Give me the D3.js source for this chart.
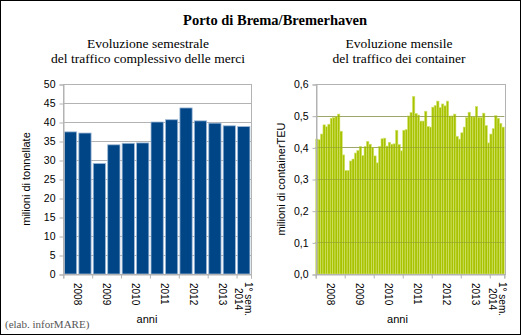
<!DOCTYPE html>
<html>
<head>
<meta charset="utf-8">
<script src="https://cdn.jsdelivr.net/npm/d3@7"></script>
<style>
  body { margin: 0; background: #fff; }
  svg { display: block; }
</style>
</head>
<body>
<div id="chart"></div>
<script>
// semester totals, milioni di tonnellate
var semesters = ["2008-1", "2008-2", "2009-1", "2009-2", "2010-1", "2010-2", "2011-1",
                 "2011-2", "2012-1", "2012-2", "2013-1", "2013-2", "2014-1"];
var tonnes = [37.4, 37.1, 29.1, 34.0, 34.4, 34.5, 40.0, 40.6, 43.7, 40.3, 39.7, 39.0, 38.8];

// monthly containers, milioni di TEU
var teu2008 = [0.426, 0.424, 0.442, 0.471, 0.465, 0.473, 0.492, 0.494, 0.497, 0.505, 0.451, 0.376];
var teu2009 = [0.327, 0.327, 0.357, 0.363, 0.382, 0.390, 0.403, 0.374, 0.403, 0.419, 0.410, 0.400];
var teu2010 = [0.373, 0.351, 0.403, 0.427, 0.429, 0.404, 0.416, 0.410, 0.411, 0.454, 0.409, 0.389];
var teu2011 = [0.454, 0.456, 0.499, 0.510, 0.561, 0.507, 0.502, 0.483, 0.483, 0.514, 0.466, 0.464];
var teu2012 = [0.527, 0.532, 0.546, 0.526, 0.537, 0.531, 0.546, 0.499, 0.499, 0.505, 0.435, 0.426];
var teu2013 = [0.446, 0.464, 0.494, 0.511, 0.497, 0.496, 0.529, 0.495, 0.494, 0.508, 0.469, 0.414];
var teu2014 = [0.442, 0.459, 0.500, 0.492, 0.476, 0.464];

var yearLabels = ["2008", "2009", "2010", "2011", "2012", "2013", "1° sem.|2014"];
var tonTicks = [0, 5, 10, 15, 20, 25, 30, 35, 40, 45, 50];
var teuTicks = [0, 0.1, 0.2, 0.3, 0.4, 0.5, 0.6];

var teu = [].concat(teu2008, teu2009, teu2010, teu2011, teu2012, teu2013, teu2014);
var months = teu.map(function(d, i) { return (2008 + Math.floor(i / 12)) + "-" + (i % 12 + 1); });

var total_width = 521, total_height = 335;
var sans = "'Liberation Sans', Arial, sans-serif",
    serif = "'Liberation Serif', 'Times New Roman', serif";
var gridColor = "#b3b3b3";

var svg = d3.select("#chart").append("svg")
    .attr("width", total_width)
    .attr("height", total_height);

svg.append("rect")
    .attr("x", 0.5).attr("y", 0.5)
    .attr("width", total_width - 1).attr("height", total_height - 1)
    .attr("fill", "#fff").attr("stroke", "#000");

// titles
svg.append("text")
    .attr("x", 275).attr("y", 25)
    .attr("text-anchor", "middle")
    .style("font-family", serif).style("font-size", "14.5px").style("font-weight", "bold")
    .text("Porto di Brema/Bremerhaven");

function subtitle(cx, lines) {
  lines.forEach(function(t, i) {
    svg.append("text")
        .attr("x", cx).attr("y", 48 + i * 15)
        .attr("text-anchor", "middle")
        .style("font-family", serif).style("font-size", "13.5px")
        .text(t);
  });
}
subtitle(148, ["Evoluzione semestrale", "del traffico complessivo delle merci"]);
subtitle(399, ["Evoluzione mensile", "del traffico dei container"]);

svg.append("text")
    .attr("x", 5).attr("y", 328)
    .style("font-family", serif).style("font-size", "11px")
    .attr("fill", "#555")
    .text("(elab. inforMARE)");

var plotTop = 84, plotBottom = 274;

// draws a panel: bars, grid, axes, labels
function panel(opt) {
  var g = svg.append("g");
  var x = d3.scaleBand()
      .domain(opt.cats)
      .range([opt.left, opt.right])
      .paddingInner(opt.pad).paddingOuter(opt.pad / 2);
  var y = d3.scaleLinear().domain(opt.domain).range([plotBottom, plotTop]);
  // index scale for year boundaries
  var xi = d3.scaleLinear().domain([0, opt.cats.length]).range([opt.left, opt.right]);

  // grid behind
  g.append("g")
      .selectAll("line")
      .data(opt.ticks)
      .enter().append("line")
        .attr("x1", opt.left).attr("x2", opt.right)
        .attr("y1", function(d) { return Math.round(y(d)) + 0.5; })
        .attr("y2", function(d) { return Math.round(y(d)) + 0.5; })
        .attr("stroke", gridColor);

  g.append("g")
      .selectAll("rect")
      .data(opt.values)
      .enter().append("rect")
        .attr("x", function(d, i) { return x(opt.cats[i]); })
        .attr("y", function(d) { return y(d); })
        .attr("width", x.bandwidth())
        .attr("height", function(d) { return plotBottom - y(d); })
        .attr("fill", opt.fill)
        .attr("stroke", opt.stroke)
        .attr("stroke-width", opt.strokeWidth);

  // grid seen through the bars
  if (opt.gridOver) {
    g.append("g")
        .selectAll("line")
        .data(opt.ticks.slice(1))
        .enter().append("line")
          .attr("x1", opt.left).attr("x2", opt.right)
          .attr("y1", function(d) { return Math.round(y(d)) + 0.5; })
          .attr("y2", function(d) { return Math.round(y(d)) + 0.5; })
          .attr("stroke", "#8a9a30").attr("stroke-opacity", 0.55);
  }

  // frame
  g.append("rect")
      .attr("x", Math.round(opt.left) + 0.5).attr("y", plotTop + 0.5)
      .attr("width", Math.round(opt.right - opt.left)).attr("height", plotBottom - plotTop)
      .attr("fill", "none").attr("stroke", gridColor);

  // y axis
  var yAxis = g.append("g")
      .attr("transform", "translate(" + (Math.round(opt.left) + 0.5) + ",0.5)")
      .call(d3.axisLeft(y).tickValues(opt.ticks).tickSize(4).tickPadding(4).tickFormat(opt.fmt));
  yAxis.select(".domain").attr("stroke", gridColor);
  yAxis.selectAll(".tick line").attr("stroke", gridColor);
  yAxis.selectAll("text")
      .style("font-family", sans).style("font-size", "10.5px").attr("fill", "#000");

  // x axis, ticks at year boundaries
  var xAxis = g.append("g")
      .attr("transform", "translate(0," + (plotBottom + 0.5) + ")")
      .call(d3.axisBottom(xi).tickValues(opt.bounds).tickSize(4).tickFormat(""));
  xAxis.select(".domain").attr("stroke", gridColor);
  xAxis.selectAll(".tick line").attr("stroke", gridColor);

  // rotated year labels
  yearLabels.forEach(function(lab, k) {
    var cx = xi((opt.bounds[k] + opt.bounds[k + 1]) / 2);
    var lines = lab.split("|");
    var t = g.append("text")
        .attr("transform", "translate(" + cx + "," + (plotBottom + 9) + ") rotate(90)")
        .style("font-family", sans).style("font-size", "10px");
    if (lines.length == 1) {
      t.attr("dy", "0.35em").text(lab);
    } else {
      t.attr("text-anchor", "middle");
      t.append("tspan").attr("x", 16).attr("dy", "-0.15em").text(lines[0]);
      t.append("tspan").attr("x", 16).attr("dy", "1em").text(lines[1]);
    }
  });

  // axis titles
  g.append("text")
      .attr("x", opt.xTitle).attr("y", 323)
      .attr("text-anchor", "middle")
      .style("font-family", sans).style("font-size", "11px")
      .text("anni");
  g.append("text")
      .attr("transform", "translate(" + opt.yTitle + "," + ((plotTop + plotBottom) / 2) + ") rotate(-90)")
      .attr("text-anchor", "middle")
      .style("font-family", sans).style("font-size", "11px")
      .text(opt.yLabel);
}

var commaFmt = function(d) { return d3.format(".1f")(d).replace(".", ","); };

panel({
  cats: semesters, values: tonnes, domain: [0, 50], ticks: tonTicks,
  left: 63.3, right: 251, pad: 0.15,
  fill: "#004586", stroke: "#9fb9d6", strokeWidth: 0.8,
  bounds: [0, 2, 4, 6, 8, 10, 12, 13],
  fmt: d3.format("d"), xTitle: 147, yTitle: 30,
  yLabel: "milioni di tonnellate"
});

panel({
  cats: months, values: teu, domain: [0, 0.6], ticks: teuTicks,
  left: 315.7, right: 504.3, pad: 0,
  fill: "#a9c200", stroke: "#d3e572", strokeWidth: 0.6, gridOver: true,
  bounds: [0, 12, 24, 36, 48, 60, 72, 78],
  fmt: commaFmt, xTitle: 397.5, yTitle: 285,
  yLabel: "milioni di containerTEU"
});
</script>
</body>
</html>
